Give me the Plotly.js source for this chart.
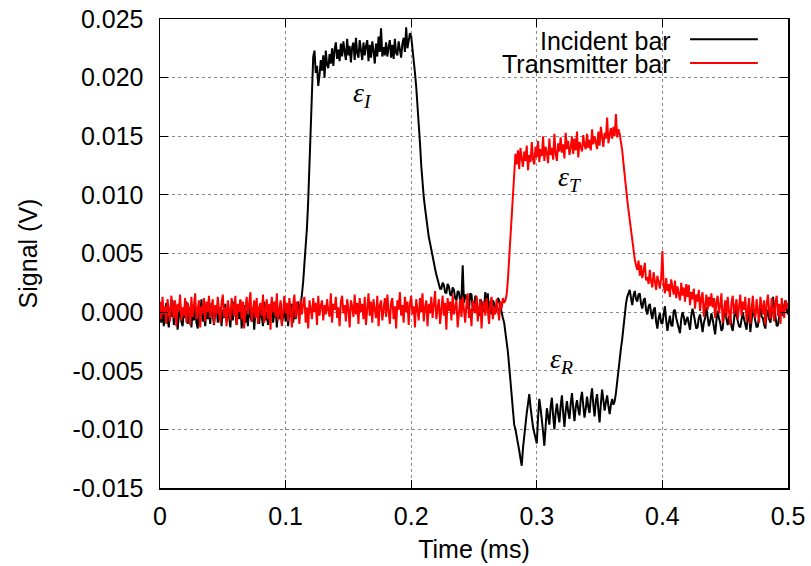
<!DOCTYPE html>
<html>
<head>
<meta charset="utf-8">
<script src="https://cdn.plot.ly/plotly-3.0.1.min.js"></script>
<style>html,body{margin:0;padding:0;background:#fff;}#chart{width:811px;height:566px;}</style>
</head>
<body>
<div id="chart"></div>
<script>
// Sampling step of the recorded signals (ms)
const sampleStepMs = 0.001;

// Incident bar signal, in mV (20 samples = 0.02 ms per row)
const incidentMilliVolts = [
  0.3, -0.9, 0.6, -1.2, -0.2, 0.8, -0.6, -1.3, 0.4, -0.4, 1.0, -1.1, -0.3, 0.5, -1.5, -0.1, 0.7, -0.8, -1.2, 0.2,
  -0.5, 0.9, -1.0, -0.2, 0.4, -1.3, 0.1, -0.7, 0.6, -0.9, -1.4, 0.3, -0.3, 1.1, -0.8, -0.1, -1.2, 0.5, -0.6, 0.2,
  -1.0, 0.8, -0.4, -1.1, 0.0, 0.6, -0.9, -0.3, 0.4, -1.2, 0.2, -0.5, 0.7, -0.8, 0.1, -0.4, -1.3, 0.5, -0.7, 0.9,
  -0.2, -1.1, 0.3, -0.6, 1.0, -1.4, -0.1, 0.6, -0.9, 0.2, -1.2, 0.7, -0.4, -0.8, 0.4, -1.5, 0.1, 0.8, -0.6, -1.0,
  0.5, -0.3, -1.2, 0.9, -0.7, 0.0, -1.1, 0.4, -0.5, 1.0, -0.9, -0.2, 0.6, -1.3, 0.2, -0.6, 0.8, -1.0, -0.1, 0.3,
  -0.8, 0.6, -1.2, 0.1, -0.4, 0.7, -0.9, 0.3, -0.6, 0.0, 0.9, -0.3, 0.5, 1.5, 2.6, 3.9, 5.4, 7.2, 9.5, 12.6,
  16.0, 19.5, 21.8, 22.3, 20.4, 21.0, 19.3, 20.2, 21.5, 20.6, 21.9, 20.0, 22.3, 21.1, 20.8, 22.0, 21.2, 22.5, 21.0, 22.4,
  23.0, 21.6, 22.4, 21.4, 22.9, 21.8, 23.1, 22.2, 21.5, 23.3, 21.9, 22.7, 21.3, 22.6, 23.0, 21.5, 23.4, 22.1, 21.7, 23.2,
  22.4, 21.5, 23.0, 21.9, 22.7, 23.2, 21.4, 22.8, 21.7, 23.1, 22.3, 21.2, 22.9, 21.8, 23.5, 22.2, 24.2, 21.8, 22.6, 21.9,
  23.0, 21.8, 22.6, 23.2, 21.7, 22.8, 21.6, 23.3, 22.1, 21.9, 23.1, 22.4, 21.7, 22.9, 23.4, 22.2, 24.3, 22.5, 23.0, 23.8,
  23.5, 22.6, 21.5, 20.4, 19.2, 17.8, 16.3, 14.4, 12.5, 11.0, 9.8, 8.9, 8.0, 7.1, 6.4, 5.9, 5.3, 4.6, 4.1, 3.7,
  3.2, 2.8, 2.6, 2.0, 2.0, 2.5, 2.3, 1.7, 1.6, 2.4, 2.2, 1.5, 1.4, 2.1, 1.9, 1.2, 1.0, 1.8, 1.7, 0.9,
  1.1, 4.0, 0.8, 1.5, 1.3, 0.4, 0.2, 1.6, 1.5, 0.3, 0.1, 1.4, 1.2, -0.2, -0.3, 1.1, 0.9, 0.0, 0.3, 1.7,
  0.3, 1.6, -0.1, 0.9, -0.2, 1.0, 0.8, 0.0, 0.2, 1.2, 1.0, 0.4, -0.1, -0.5, -0.9, -1.6, -2.4, -3.4, -4.6, -6.0,
  -7.5, -8.6, -9.6, -10.0, -10.5, -11.2, -11.8, -12.5, -13.1, -11.6, -10.4, -9.4, -8.6, -7.8, -7.0, -8.1, -9.2, -9.8, -10.3, -10.8,
  -11.2, -9.0, -7.4, -8.2, -9.0, -10.2, -11.4, -9.5, -8.2, -8.9, -9.6, -8.1, -7.3, -8.8, -10.0, -8.6, -7.8, -8.7, -9.4, -8.0,
  -7.1, -8.6, -9.8, -8.4, -7.6, -8.5, -9.1, -7.8, -6.9, -8.2, -9.3, -8.1, -7.5, -8.3, -8.8, -7.4, -6.8, -8.0, -9.0, -8.2,
  -7.2, -8.1, -8.6, -7.3, -6.5, -7.9, -8.9, -7.6, -7.0, -8.3, -9.4, -7.8, -6.6, -7.5, -8.4, -7.7, -7.1, -8.0, -8.7, -7.9,
  -7.4, -7.9, -7.6, -6.9, -5.8, -4.9, -4.0, -3.1, -2.3, -1.2, -0.2, 0.7, 1.3, 1.7, 1.9, 1.2, 0.6, 1.4, 1.8, 1.1,
  0.9, 1.5, 1.6, 0.7, 0.3, 1.0, 1.2, 0.2, -0.2, 0.5, 0.7, -0.1, -0.6, 0.2, 0.4, -0.8, -1.4, -0.5, -0.1, -0.9,
  -1.0, -0.2, 0.5, -0.7, -1.6, -0.9, -0.3, -1.1, -1.2, 0.1, 0.2, -0.5, -0.9, -1.5, -1.8, -0.6, 0.0, -0.4, -1.1, -0.7,
  -0.4, -1.0, -1.5, -0.3, 0.3, -0.2, -0.8, -1.4, -1.3, -0.5, -0.2, -1.1, -1.7, -0.9, -0.5, 0.4, -0.3, -1.2, -0.8, -0.1,
  -0.6, -1.3, -1.9, -0.7, 0.1, -0.5, -0.9, -1.6, -1.4, -0.2, 0.2, -0.6, -1.1, -0.4, -0.3, -1.2, -1.6, -0.7, 0.5, -0.3,
  -0.8, -1.2, -1.3, -0.4, 0.0, -0.6, -1.0, -1.5, -0.4, 0.1, -1.7, -0.8, 0.3, -0.2, -0.7, -1.3, -1.2, -0.3, 0.6, -0.4,
  -0.5, -1.1, -1.4, -0.2, 0.2, -0.6, -0.9, -0.1, 1.3, 0.5, -0.6, -1.2, -1.1, -0.2, 0.4, 0.0, -0.3, 0.6, 1.0, 0.2,
  -0.2
];

// Transmitter bar signal, in mV (20 samples = 0.02 ms per row)
const transmitterMilliVolts = [
  0.9, -0.6, 1.3, -0.2, 0.5, -1.0, 1.1, 0.0, -0.8, 1.4, 0.2, -0.5, 1.0, -1.2, 0.7, 0.1, 1.5, -0.7, 0.4, -0.3,
  1.2, -0.9, 0.8, 0.3, -1.1, 1.3, -0.4, 0.6, 1.6, -0.6, 0.2, 1.0, -1.3, 0.5, -0.1, 1.2, -0.8, 0.9, 0.0, 1.4,
  -0.5, 0.3, 1.1, -1.0, 0.6, -0.2, 1.3, 0.1, -0.9, 0.8, 1.5, -0.4, 0.4, -1.2, 1.0, 0.2, -0.7, 1.2, 0.5, -0.3,
  1.4, -1.1, 0.7, 0.0, 1.1, -0.6, 0.9, -1.4, 0.3, 1.3, -0.2, 0.6, 1.7, -0.8, 0.1, 1.0, -0.5, 1.2, -1.0, 0.4,
  0.8, -0.3, 1.5, -0.9, 0.2, 1.1, -0.6, 0.7, -1.5, 1.3, 0.0, 0.9, -0.4, 1.6, -0.7, 0.5, 1.0, -1.2, 0.3, 1.4,
  -0.1, 0.8, -0.8, 1.2, 0.2, -1.3, 0.6, 1.5, -0.5, 0.9, 0.1, -1.0, 1.1, -0.2, 0.7, 1.3, -0.9, 0.4, -1.4, 1.0,
  0.3, -0.6, 1.2, 0.0, 0.8, -1.1, 1.4, -0.3, 0.5, 1.0, -0.7, 0.6, -0.2, 1.1, 0.1, -0.4, 1.6, -0.9, 0.7, 0.2,
  1.3, -0.5, 0.4, -1.2, 0.9, 1.4, -0.1, 0.6, -0.8, 1.1, 0.3, -1.3, 1.0, 0.5, -0.4, 1.5, -0.2, 0.8, -1.0, 1.2,
  0.0, 0.7, -0.6, 1.3, -1.1, 0.4, 1.6, -0.3, 0.9, -0.9, 1.1, 0.2, -0.5, 1.4, -1.2, 0.6, 1.0, -0.7, 0.3, 1.2,
  -0.4, 1.5, 0.1, -1.0, 0.8, 1.2, -0.6, 0.5, -1.4, 1.0, 0.2, 1.7, -0.3, 0.6, -0.9, 1.3, 0.0, 0.9, -1.1, 0.7,
  1.4, -0.2, 0.5, -1.3, 1.1, 0.3, -0.7, 1.2, 0.0, 1.6, -0.8, 0.4, 1.0, -1.2, 0.7, -0.1, 1.3, -0.5, 0.9, 1.8,
  -0.6, 0.2, 1.1, -1.0, 0.6, 1.4, -0.3, 0.8, -1.5, 1.2, 0.1, 0.9, -0.7, 1.5, -0.2, 0.5, 1.0, -1.3, 0.4, 1.1,
  -0.4, 1.3, 0.2, -0.9, 0.7, 1.6, -0.5, 0.3, -1.2, 1.0, 0.6, -0.1, 1.4, -0.8, 0.2, 1.1, -1.4, 0.5, 0.9, -0.3,
  1.2, 0.0, -1.0, 0.8, 1.3, -0.6, 0.4, -0.2, 1.1, 0.3, -0.7, 0.9, 0.3, 1.2, 0.8, 1.0, 1.5, 2.8, 4.5, 6.2,
  8.0, 10.1, 12.0, 13.5, 12.6, 13.8, 12.2, 14.0, 13.1, 12.4, 13.7, 12.9, 14.2, 12.1, 13.4, 12.8, 14.5, 13.0, 12.6, 14.1,
  13.2, 14.6, 12.8, 13.9, 13.3, 15.0, 12.9, 14.1, 13.6, 12.7, 14.8, 13.4, 14.0, 13.0, 15.2, 13.5, 12.9, 14.4, 13.7, 14.9,
  13.6, 14.3, 13.1, 15.3, 13.9, 14.6, 13.4, 14.0, 15.0, 13.5, 14.8, 13.8, 15.4, 13.2, 14.5, 14.1, 13.7, 15.1, 14.2, 13.9,
  15.2, 14.0, 14.7, 13.8, 15.6, 14.3, 15.0, 14.5, 13.9, 15.4, 14.2, 15.8, 14.6, 14.1, 15.3, 14.8, 16.6, 14.4, 15.1, 15.7,
  14.8, 15.8, 15.0, 16.9, 14.9, 15.6, 15.2, 14.6, 13.8, 12.7, 11.5, 10.6, 9.6, 8.7, 7.8, 6.8, 5.8, 5.1, 4.5, 4.0,
  3.6, 4.4, 3.1, 4.0, 2.9, 3.5, 4.2, 2.7, 3.0, 2.4, 3.6, 2.6, 2.1, 3.4, 2.8, 1.9, 3.1, 2.5, 2.0, 2.9,
  5.2, 2.3, 1.6, 2.9, 1.8, 2.4, 1.3, 2.8, 2.0, 1.5, 2.7, 1.2, 2.2, 1.7, 1.0, 2.5, 1.4, 2.1, 0.9, 2.4,
  1.3, 2.3, 0.6, 1.7, 1.1, 2.0, 0.3, 1.5, 0.9, 1.9, 0.1, 1.2, 1.7, -0.4, 0.8, 1.5, 0.2, 1.3, 0.5, 1.6,
  0.4, 1.2, -0.5, 0.9, 1.4, -0.1, 0.6, 1.6, -0.9, 0.3, 1.0, -0.4, 1.3, 0.1, -1.1, 0.8, 1.4, -0.2, 0.5, 1.1,
  -0.6, 0.7, 1.5, -0.3, 0.9, 0.2, 1.3, -0.8, 0.4, 1.2, -1.0, 0.6, 1.4, 0.0, -0.5, 1.1, 0.3, -0.9, 1.3, 0.5,
  -0.2, 1.0, -1.1, 0.6, 1.5, 0.1, -0.6, 1.2, 0.4, -0.8, 0.9, 1.4, -0.3, 0.7, -1.0, 1.2, 0.2, -0.5, 1.0, 0.3,
  0.8
];

const seriesNames = ["Incident bar", "Transmitter bar"];
const seriesColors = ["#000000", "#ff0000"];

const xTickValues = [0, 0.1, 0.2, 0.3, 0.4, 0.5];
const xTickLabels = ["0", "0.1", "0.2", "0.3", "0.4", "0.5"];
const yTickValues = [-0.015, -0.010, -0.005, 0.000, 0.005, 0.010, 0.015, 0.020, 0.025];
const yTickLabels = ["-0.015", "-0.010", "-0.005", "0.000", "0.005", "0.010", "0.015", "0.020", "0.025"];

// Wave labels: text, time (ms), signal (V)
const waveLabelText = ["ε<sub>I</sub>", "ε<sub>T</sub>", "ε<sub>R</sub>"];
const waveLabelTime = [0.1610, 0.3264, 0.3200];
const waveLabelSignal = [0.0186, 0.0114, -0.0041];

function timesFor(values) {
  return values.map((_, i) => +(i * sampleStepMs).toFixed(4));
}
function toVolts(values) {
  return values.map(v => v / 1000);
}

const traces = [
  {
    x: timesFor(incidentMilliVolts), y: toVolts(incidentMilliVolts),
    type: "scatter", mode: "lines", name: seriesNames[0],
    line: {color: seriesColors[0], width: 2}, showlegend: false
  },
  {
    x: timesFor(transmitterMilliVolts), y: toVolts(transmitterMilliVolts),
    type: "scatter", mode: "lines", name: seriesNames[1],
    line: {color: seriesColors[1], width: 2}, showlegend: false
  }
];

const FONT = "'Liberation Sans', Arial, Helvetica, sans-serif";
const FS = 25;

const axisCommon = {
  showline: true, linecolor: "#000", linewidth: 1.5, mirror: "ticks",
  ticks: "inside", ticklen: 8, tickwidth: 1, tickcolor: "#000",
  showgrid: true, gridcolor: "#8a8a8a", gridwidth: 1, griddash: "dot",
  zeroline: false, tickfont: {family: FONT, size: FS, color: "#000"},
  tickmode: "array", automargin: false
};

const annotations = waveLabelText.map((t, i) => ({
  x: waveLabelTime[i], y: waveLabelSignal[i], xref: "x", yref: "y",
  text: "<i>" + t + "</i>", showarrow: false,
  font: {family: "'Liberation Serif', 'DejaVu Serif', serif", size: 28, color: "#000"}
}));

// Legend (gnuplot style: key text, then line sample)
const legendTextY = [0.953, 0.904];
const legendLineY = [0.957, 0.906];
seriesNames.forEach((n, i) => {
  annotations.push({
    x: 0.817, y: legendTextY[i], xref: "paper", yref: "paper",
    xanchor: "right", yanchor: "middle", text: n, showarrow: false,
    font: {family: FONT, size: FS, color: "#000"}
  });
});
const shapes = seriesNames.map((n, i) => ({
  type: "line", xref: "paper", yref: "paper",
  x0: 0.844, x1: 0.952, y0: legendLineY[i], y1: legendLineY[i],
  line: {color: seriesColors[i], width: 2}
}));

const layout = {
  width: 811, height: 566,
  margin: {l: 160, r: 23, t: 19, b: 78},
  paper_bgcolor: "#fff", plot_bgcolor: "#fff",
  font: {family: FONT, color: "#000"},
  showlegend: false,
  xaxis: Object.assign({}, axisCommon, {
    range: [0, 0.5], tickvals: xTickValues, ticktext: xTickLabels,
    ticklabelstandoff: 5,
    title: {text: "Time (ms)", font: {family: FONT, size: FS, color: "#000"}, standoff: 12}
  }),
  yaxis: Object.assign({}, axisCommon, {
    range: [-0.015, 0.025], tickvals: yTickValues, ticktext: yTickLabels,
    ticklabelstandoff: 10,
    title: {text: "Signal (V)", font: {family: FONT, size: FS, color: "#000"}, standoff: 28}
  }),
  annotations: annotations,
  shapes: shapes
};

Plotly.newPlot("chart", traces, layout, {displayModeBar: false, staticPlot: true});
</script>
</body>
</html>
